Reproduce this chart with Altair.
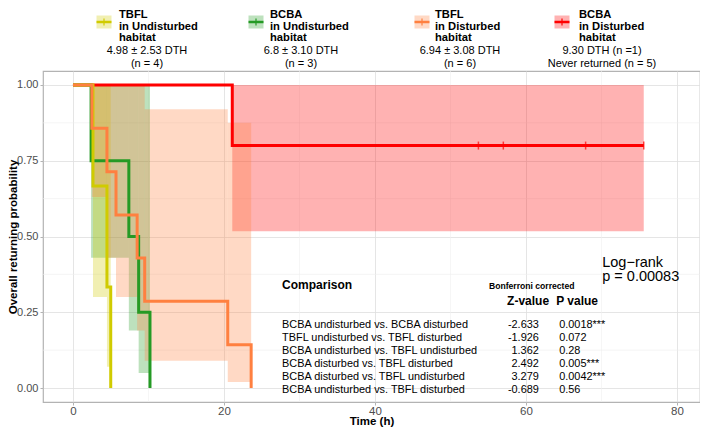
import altair as alt
import pandas as pd

FONT = "Liberation Sans"

# ---------------- data ----------------
GROUPS = ["TBFL_U", "BCBA_U", "TBFL_D", "BCBA_D"]
COLORS = ["#D0CB00", "#259A25", "#FF8040", "#FF0000"]

LEG_L1 = ["TBFL", "BCBA", "TBFL", "BCBA"]
LEG_L2 = ["in Undisturbed", "in Undisturbed", "in Disturbed", "in Disturbed"]
LEG_L3 = ["habitat", "habitat", "habitat", "habitat"]
LEG_S1 = ["4.98 ± 2.53 DTH", "6.8 ± 3.10 DTH", "6.94 ± 3.08 DTH", "9.30 DTH (n =1)"]
LEG_S2 = ["(n = 4)", "(n = 3)", "(n = 6)", "Never returned (n = 5)"]

# Kaplan-Meier step curves (time in h, survival, 95% CI)
TBFL_U_T = [0, 2.65, 4.5, 5.0]
TBFL_U_S = [1.0, 0.667, 0.333, 0.0]
TBFL_U_LO = [1.0, 0.30, 0.07, 0.07]
TBFL_U_HI = [1.0, 1.0, 1.0, 1.0]

BCBA_U_T = [0, 2.4, 7.4, 8.7, 10.2]
BCBA_U_S = [1.0, 0.75, 0.5, 0.25, 0.0]
BCBA_U_LO = [1.0, 0.43, 0.19, 0.05, 0.05]
BCBA_U_HI = [1.0, 1.0, 1.0, 1.0, 1.0]

TBFL_D_T = [0, 2.5, 4.5, 5.7, 8.5, 9.5, 20.5, 23.6]
TBFL_D_S = [1.0, 0.857, 0.714, 0.571, 0.429, 0.286, 0.143, 0.0]
TBFL_D_LO = [1.0, 0.63, 0.43, 0.30, 0.19, 0.09, 0.02, 0.02]
TBFL_D_HI = [1.0, 1.0, 1.0, 1.0, 1.0, 0.92, 0.875, 0.875]

BCBA_D_T = [0, 21.1, 75.6]
BCBA_D_S = [1.0, 0.8, 0.8]
BCBA_D_LO = [1.0, 0.517, 0.517]
BCBA_D_HI = [1.0, 1.0, 1.0]
BCBA_D_CENSOR = [53.7, 57.0, 67.9, 75.6]

COMPARISONS = [
    "BCBA undisturbed vs. BCBA disturbed",
    "TBFL undisturbed vs. TBFL disturbed",
    "BCBA undisturbed vs. TBFL undisturbed",
    "BCBA disturbed vs. TBFL disturbed",
    "BCBA disturbed vs. TBFL undisturbed",
    "BCBA undisturbed vs. TBFL disturbed",
]
ZVALUES = ["-2.633", "-1.926", "1.362", "2.492", "3.279", "-0.689"]
PVALUES = ["0.0018***", "0.072", "0.28", "0.005***", "0.0042***", "0.56"]
LOGRANK = ["Log\u2212rank", "p = 0.00083"]

X_TICKS = [0, 20, 40, 60, 80]
Y_TICKS = [0, 0.25, 0.5, 0.75, 1.0]
X_MINOR = [10, 30, 50, 70]
Y_MINOR = [0.125, 0.375, 0.625, 0.875]

# ---------------- tables ----------------
curves = {
    "TBFL_U": (TBFL_U_T, TBFL_U_S, TBFL_U_LO, TBFL_U_HI),
    "BCBA_U": (BCBA_U_T, BCBA_U_S, BCBA_U_LO, BCBA_U_HI),
    "TBFL_D": (TBFL_D_T, TBFL_D_S, TBFL_D_LO, TBFL_D_HI),
    "BCBA_D": (BCBA_D_T, BCBA_D_S, BCBA_D_LO, BCBA_D_HI),
}
rows, bands = [], []
for g, (T, S, LO, HI) in curves.items():
    for i, (t, s) in enumerate(zip(T, S)):
        rows.append({"group": g, "t": t, "s": s, "i": i})
    for i in range(len(T) - 1):
        bands.append({"group": g, "t": T[i], "t2": T[i + 1], "lo": LO[i], "hi": HI[i]})
df = pd.DataFrame(rows)
bdf = pd.DataFrame(bands)
cens = pd.DataFrame({"t": BCBA_D_CENSOR, "s": [BCBA_D_S[-1]] * len(BCBA_D_CENSOR)})

W, H = 657, 331
XDOM = [-3.97, 83.05]
YDOM = [-0.046, 1.046]
xs = alt.Scale(domain=XDOM, nice=False, zero=False)
ys = alt.Scale(domain=YDOM, nice=False, zero=False)
cs = alt.Scale(domain=GROUPS, range=COLORS)
col = alt.Color("group:N", scale=cs, legend=None)

GRID = "#DEDEDE"

minor_x = alt.Chart(pd.DataFrame({"t": X_MINOR})).mark_rule(color="#EEEEEE", strokeWidth=0.6).encode(
    x=alt.X("t:Q", scale=xs))
minor_y = alt.Chart(pd.DataFrame({"s": Y_MINOR})).mark_rule(color="#EEEEEE", strokeWidth=0.6).encode(
    y=alt.Y("s:Q", scale=ys))

X_AXIS = alt.Axis(values=X_TICKS, format="d")
Y_AXIS = alt.Axis(values=Y_TICKS, format=".2f")
XT, YT = "Time (h)", "Overall returning probability"
x_enc = alt.X("t:Q", scale=xs, title=XT, axis=X_AXIS)
y_enc = alt.Y("s:Q", scale=ys, title=YT, axis=Y_AXIS)

layers = [minor_x, minor_y]
draw_order = ["BCBA_D", "BCBA_U", "TBFL_U", "TBFL_D"]
for g in draw_order:
    layers.append(
        alt.Chart(bdf).transform_filter(alt.datum.group == g).mark_rect(opacity=0.3).encode(
            x=x_enc, x2="t2", y=alt.Y("lo:Q", scale=ys, title=YT, axis=Y_AXIS), y2="hi", color=col)
    )
for g in draw_order:
    layers.append(
        alt.Chart(df).transform_filter(alt.datum.group == g).mark_line(
            interpolate="step-after", strokeWidth=3).encode(
            x=x_enc, y=y_enc, color=col, order="i:Q")
    )
layers.append(
    alt.Chart(cens).mark_tick(orient="vertical", color="#FF0000", size=8, thickness=1.5).encode(
        x=alt.X("t:Q", scale=xs), y=alt.Y("s:Q", scale=ys))
)

# ---- comparison table (placed in data coordinates) ----
n = len(COMPARISONS)
ROW_Y0, ROW_DY = 0.208, 0.0429
tab = pd.DataFrame({
    "comp": COMPARISONS, "z": ZVALUES, "p": PVALUES,
    "y": [ROW_Y0 - k * ROW_DY for k in range(n)],
})
tb = alt.Chart(tab)
TFS = 10.9
layers.append(tb.mark_text(align="left", baseline="middle", font=FONT, fontSize=TFS, color="#000").encode(
    x=alt.datum(27.7, scale=xs), y=alt.Y("y:Q", scale=ys), text="comp:N"))
layers.append(tb.mark_text(align="right", baseline="middle", font=FONT, fontSize=TFS, color="#000").encode(
    x=alt.datum(61.7, scale=xs), y=alt.Y("y:Q", scale=ys), text="z:N"))
layers.append(tb.mark_text(align="left", baseline="middle", font=FONT, fontSize=TFS, color="#000").encode(
    x=alt.datum(64.4, scale=xs), y=alt.Y("y:Q", scale=ys), text="p:N"))

hdr = pd.DataFrame({
    "txt": ["Comparison", "Bonferroni corrected", "Z-value", "P value", LOGRANK[0], LOGRANK[1]],
    "x": [27.7, 55.1, 57.5, 64.0, 70.1, 70.1],
    "y": [0.340, 0.338, 0.287, 0.287, 0.414, 0.365],
    "size": [12, 8.6, 12, 12, 14.5, 14.5],
    "weight": ["bold", "bold", "bold", "bold", "normal", "normal"],
})
for w in ["bold", "normal"]:
    layers.append(alt.Chart(hdr).transform_filter(alt.datum.weight == w).mark_text(
        align="left", baseline="middle", font=FONT, fontWeight=w, color="#000").encode(
        x=alt.X("x:Q", scale=xs), y=alt.Y("y:Q", scale=ys), text="txt:N",
        size=alt.Size("size:Q", scale=None)))

# ---- custom legend above the panel (pixel layout relative to plot area) ----
KEY_X = [61, 213, 379, 519]
TXT_X = [76, 227, 392, 536]
STAT_X = [104, 258, 417, 559]
TITLE_Y = [-56, -44.5, -33]
STAT_Y = [-20, -7.5]
leg_rows = []
for k in range(4):
    for line, yy in zip([LEG_L1[k], LEG_L2[k], LEG_L3[k]], TITLE_Y):
        leg_rows.append({"txt": line, "px": TXT_X[k], "py": yy, "kind": "title"})
    for line, yy in zip([LEG_S1[k], LEG_S2[k]], STAT_Y):
        leg_rows.append({"txt": line, "px": STAT_X[k], "py": yy, "kind": "stat"})
leg = pd.DataFrame(leg_rows)
layers.append(alt.Chart(leg).transform_filter(alt.datum.kind == "title").mark_text(
    align="left", baseline="middle", font=FONT, fontWeight="bold", fontSize=11.2, color="#000").encode(
    x=alt.X("px:Q", scale=None), y=alt.Y("py:Q", scale=None), text="txt:N"))
layers.append(alt.Chart(leg).transform_filter(alt.datum.kind == "stat").mark_text(
    align="center", baseline="middle", font=FONT, fontSize=11, color="#000").encode(
    x=alt.X("px:Q", scale=None), y=alt.Y("py:Q", scale=None), text="txt:N"))

KEY_YC = -49
keys = pd.DataFrame({"group": GROUPS, "kx": KEY_X})
keys["x0"] = keys["kx"] - 7.5
keys["x1"] = keys["kx"] + 7.5
keys["y0"] = KEY_YC - 6.5
keys["y1"] = KEY_YC + 6.5
keys["ym"] = KEY_YC
keys["t0"] = KEY_YC - 3.5
keys["t1"] = KEY_YC + 3.5
kc = alt.Chart(keys)
layers.append(kc.mark_rect(opacity=0.3).encode(
    x=alt.X("x0:Q", scale=None), x2="x1:Q", y=alt.Y("y0:Q", scale=None), y2="y1:Q", color=col))
layers.append(kc.mark_rule(strokeWidth=2.5).encode(
    x=alt.X("x0:Q", scale=None), x2="x1:Q", y=alt.Y("ym:Q", scale=None), color=col))
layers.append(kc.mark_rule(strokeWidth=1.2).encode(
    x=alt.X("kx:Q", scale=None), y=alt.Y("t0:Q", scale=None), y2="t1:Q", color=col))

chart = alt.layer(*layers).properties(
    width=W, height=H,
    autosize=alt.AutoSizeParams(type="none"),
    padding={"left": 35, "top": 63, "right": 0, "bottom": 25},
).configure_view(
    stroke="#B3B3B3", strokeWidth=1.2
).configure_axis(
    domain=False, grid=True, gridColor=GRID, gridWidth=0.8,
    tickColor="#B3B3B3", tickSize=3, tickWidth=1,
    labelFont=FONT, labelFontSize=11, labelColor="#4D4D4D",
    titleFont=FONT, titleFontWeight="bold", titleFontSize=11.5, titleColor="#000",
).configure_axisX(
    labelPadding=0, labelFontSize=11.5, titleY=19.5, titleBaseline="middle",
).configure_axisY(
    labelPadding=2, titleX=-24.5, titleBaseline="bottom",
)

chart.save("out.html", embed_options={"renderer": "svg", "actions": False})
